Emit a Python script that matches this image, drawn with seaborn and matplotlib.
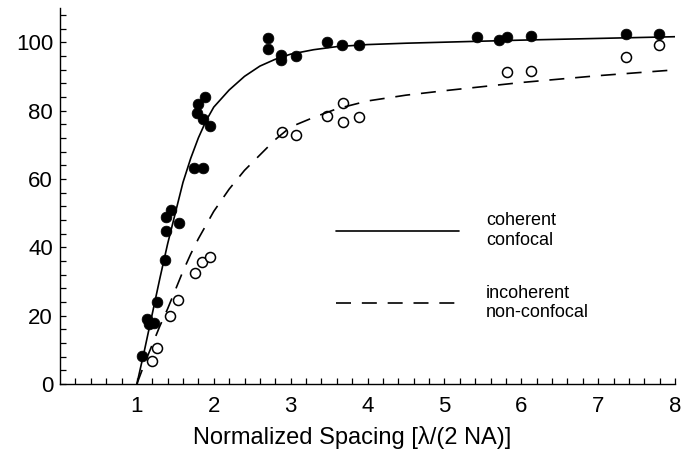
import numpy as np
import pandas as pd
import matplotlib
matplotlib.use("Agg")
import matplotlib.pyplot as plt
from matplotlib.ticker import MultipleLocator
import seaborn as sns

# measured points, coherent confocal (filled) and incoherent non-confocal (open)
x_coh = [1.07, 1.13, 1.16, 1.22, 1.26, 1.36, 1.38, 1.38, 1.445, 1.543, 1.738, 1.859,
         1.78, 1.794, 1.854, 1.889, 1.953, 2.708, 2.708, 2.88, 2.88, 3.075, 3.476,
         3.67, 3.894, 5.424, 5.705, 5.813, 6.128, 7.357, 7.788]
y_coh = [8.2, 19.0, 17.5, 17.8, 24.1, 36.3, 44.8, 48.9, 51.0, 47.0, 63.1, 63.1,
         79.4, 81.8, 77.4, 84.0, 75.4, 101.1, 98.0, 96.2, 94.8, 95.9, 100.1,
         99.3, 99.3, 101.6, 100.6, 101.6, 101.8, 102.3, 102.3]

x_inc = [1.199, 1.264, 1.436, 1.53, 1.752, 1.846, 1.953, 2.889, 3.075, 3.476,
         3.678, 3.678, 3.894, 5.813, 6.128, 7.357, 7.788]
y_inc = [6.8, 10.4, 20.0, 24.6, 32.4, 35.6, 37.3, 73.6, 72.8, 78.4,
         82.3, 76.7, 78.0, 91.3, 91.6, 95.7, 99.1]

# fitted curves
x_fit = [1.0, 1.1, 1.2, 1.3, 1.4, 1.5, 1.6, 1.7, 1.8, 1.9, 2.0, 2.2, 2.4, 2.6,
         2.8, 3.0, 3.3, 3.6, 4.0, 4.5, 5.0, 6.0, 7.0, 8.0]
y_fit_coh = [0.0, 10.0, 20.5, 31.0, 41.0, 50.0, 59.0, 66.0, 72.0, 77.0, 81.0, 86.0,
             90.0, 93.0, 95.0, 96.5, 97.8, 98.7, 99.3, 99.7, 100.0, 100.6, 101.1, 101.6]
y_fit_inc = [0.0, 6.0, 11.5, 17.0, 22.0, 27.5, 33.0, 38.0, 42.5, 46.5, 50.5, 57.0,
             62.5, 67.0, 71.5, 75.2, 78.0, 80.5, 82.8, 84.5, 85.8, 88.2, 90.2, 91.9]

labels = ["coherent\nconfocal", "incoherent\nnon-confocal"]

sns.set_style("ticks")
plt.rcParams['font.family'] = ['Liberation Sans', 'DejaVu Sans']
plt.rcParams['text.color'] = 'black'
plt.rcParams['xtick.color'] = 'black'
plt.rcParams['ytick.color'] = 'black'
plt.rcParams['axes.labelcolor'] = 'black'

fig = plt.figure(figsize=(6.82, 4.51), dpi=100)
ax = fig.add_axes([60/682, 67/451, 615/682, 376/451])

sns.scatterplot(x=x_coh, y=y_coh, ax=ax, color="black", s=60, edgecolor="black",
                linewidth=0.5, legend=False, zorder=2)
sns.scatterplot(x=x_inc, y=y_inc, ax=ax, facecolor="white", s=52, edgecolor="black",
                linewidth=1.1, legend=False, zorder=2)

sns.lineplot(x=x_fit, y=y_fit_coh, ax=ax, color="black", lw=1.2, label=labels[0],
             zorder=3)
sns.lineplot(x=x_fit, y=y_fit_inc, ax=ax, color="black", lw=1.2, label=labels[1],
             zorder=3)
ax.lines[1].set_linestyle((0, (9, 6.5)))

ax.set_xlim(0, 8)
ax.set_ylim(0, 110)
ax.yaxis.set_major_locator(MultipleLocator(20))
ax.yaxis.set_minor_locator(MultipleLocator(4))
ax.set_xticks(range(1, 9))
ax.set_xticks(np.arange(0.2, 8.01, 0.2), minor=True)

ax.tick_params(which="both", direction="in", length=4, width=0.9, color="black")
ax.tick_params(axis="x", which="major", pad=9, labelsize=16)
ax.tick_params(axis="y", which="major", pad=5, labelsize=16)
for s in ["top", "right"]:
    ax.spines[s].set_visible(False)
for s in ["left", "bottom"]:
    ax.spines[s].set_linewidth(1.0)
    ax.spines[s].set_color("black")

ax.set_xlabel("Normalized Spacing [\u03bb/(2 NA)]", fontsize=17)
ax.xaxis.set_label_coords((352 - 60) / 615, -0.112)
ax.set_ylabel("")

leg = ax.legend(loc="upper left", bbox_to_anchor=(0.449, 0.457), frameon=False,
                fontsize=13, handlelength=6.8, handletextpad=1.5, labelspacing=2.0,
                borderpad=0, borderaxespad=0)

fig.savefig("out.png", dpi=100)
